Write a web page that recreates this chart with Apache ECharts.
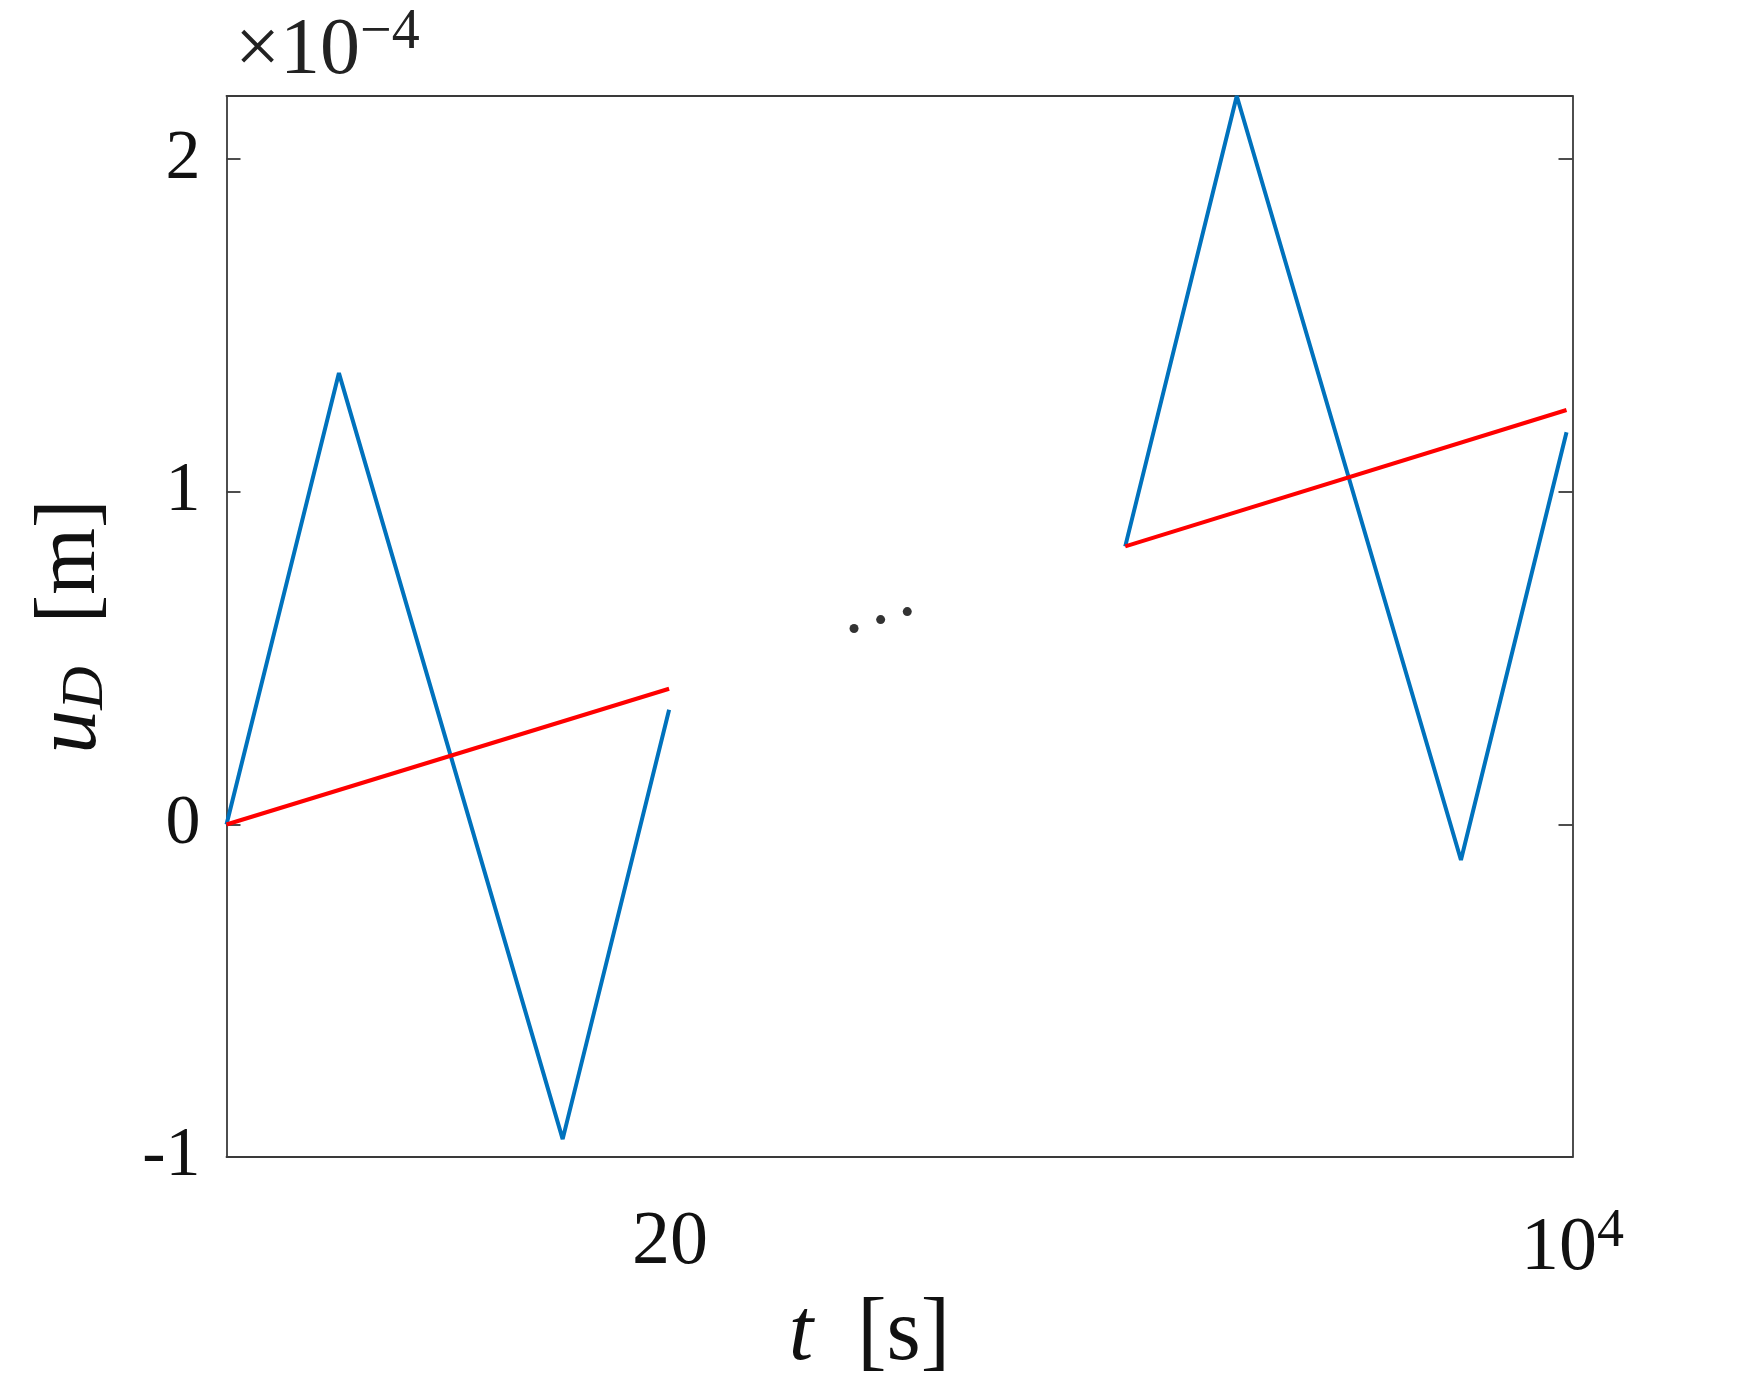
<!DOCTYPE html>
<html>
<head>
<meta charset="utf-8">
<script src="https://cdn.jsdelivr.net/npm/echarts@6/dist/echarts.min.js"></script>
<style>
  html, body { margin: 0; padding: 0; background: #fff; }
  #chart { width: 1738px; height: 1385px; }
</style>
</head>
<body>
<div id="chart"></div>
<script>
// time axis is broken: 0..20 s on the left, the last 20 s before 1e4 s on the right
var leftT = [0, 5.07, 15.16, 19.96]
var leftBlue = [0, 1.357, -0.946, 0.345]
var leftRedT = [0, 19.96]
var leftRed = [0, 0.408]

var rightT = [40.53, 45.56, 55.67, 60.43]
var rightBlue = [0.836, 2.19, -0.107, 1.179]
var rightRedT = [40.53, 60.43]
var rightRed = [0.836, 1.246]

// the "..." between the two windows
var dotsT = [28.3, 29.5, 30.7]
var dotsY = [0.589, 0.616, 0.64]

var xTickValues = [20, 60.7]
var xTickLabels = ['20', '{b|10}{sup|4}']
var yTickValues = [-1, 0, 1, 2]

var serif = 'Liberation Serif'
var axisColor = '#3a3a3a'

function pairs(xs, ys) {
  return xs.map(function (x, i) { return [x, ys[i]] })
}

var chart = echarts.init(document.getElementById('chart'))

var options = {
  animation: false,
  title: {
    text: '{a|×10}{sup|−4}',
    left: 230,
    top: 0,
    textStyle: {
      fontWeight: 'normal',
      rich: {
        a: { fontFamily: serif, fontSize: 80, fontWeight: 'normal', color: '#222' },
        sup: { fontFamily: serif, fontSize: 56, fontWeight: 'normal', color: '#222', padding: [0, 0, 38, 0] }
      }
    }
  },
  grid: {
    left: 226.5,
    right: 165.5,
    top: 96,
    bottom: 226
  },
  xAxis: [
    {
      type: 'value',
      min: 0,
      max: 60.7,
      position: 'bottom',
      name: '{i|t}  [s]',
      nameLocation: 'middle',
      nameGap: 134,
      nameTextStyle: {
        padding: [0, 60, 0, 0],
        rich: {
          i: { fontFamily: serif, fontStyle: 'italic', fontSize: 88, color: '#111' }
        },
        fontFamily: serif,
        fontSize: 88,
        color: '#111'
      },
      axisLine: { show: true, onZero: false, lineStyle: { color: axisColor, width: 1.8 } },
      axisTick: { show: false },
      splitLine: { show: false },
      axisLabel: {
        customValues: xTickValues,
        margin: 48,
        fontFamily: serif,
        fontSize: 76,
        color: '#111',
        formatter: function (val) {
          var i = xTickValues.indexOf(val)
          return i >= 0 ? xTickLabels[i] : ''
        },
        rich: {
          b: { fontFamily: serif, fontSize: 76, color: '#111' },
          sup: { fontFamily: serif, fontSize: 54, color: '#111', padding: [0, 0, 34, 0] }
        }
      }
    },
    {
      type: 'value',
      min: 0,
      max: 60.7,
      position: 'top',
      axisLine: { show: true, onZero: false, lineStyle: { color: axisColor, width: 1.8 } },
      axisTick: { show: false },
      axisLabel: { show: false },
      splitLine: { show: false }
    }
  ],
  yAxis: [
    {
      type: 'value',
      min: -1,
      max: 2.19,
      position: 'left',
      name: '{i|u}{sub|D}  [m]',
      nameLocation: 'middle',
      nameRotate: 90,
      nameGap: 110,
      nameTextStyle: {
        fontFamily: serif,
        fontSize: 86,
        color: '#111',
        rich: {
          i: { fontFamily: serif, fontStyle: 'italic', fontSize: 88, color: '#111' },
          sub: { fontFamily: serif, fontStyle: 'italic', fontSize: 60, color: '#111', padding: [30, 0, 0, 0] }
        }
      },
      axisLine: { show: true, onZero: false, lineStyle: { color: axisColor, width: 1.8 } },
      axisTick: {
        show: true,
        inside: true,
        length: 14,
        customValues: yTickValues,
        lineStyle: { color: axisColor, width: 1.8 }
      },
      axisLabel: {
        customValues: yTickValues,
        margin: 26,
        fontFamily: serif,
        fontSize: 70,
        color: '#111'
      },
      splitLine: { show: false }
    },
    {
      type: 'value',
      min: -1,
      max: 2.19,
      position: 'right',
      axisLine: { show: true, onZero: false, lineStyle: { color: axisColor, width: 1.8 } },
      axisTick: {
        show: true,
        inside: true,
        length: 14,
        customValues: yTickValues,
        lineStyle: { color: axisColor, width: 1.8 }
      },
      axisLabel: { show: false },
      splitLine: { show: false }
    }
  ],
  series: [
    {
      type: 'line',
      data: pairs(leftT, leftBlue),
      symbol: 'none',
      lineStyle: { color: '#0072BD', width: 4 }
    },
    {
      type: 'line',
      data: pairs(rightT, rightBlue),
      symbol: 'none',
      lineStyle: { color: '#0072BD', width: 4 }
    },
    {
      type: 'line',
      data: pairs(leftRedT, leftRed),
      symbol: 'none',
      lineStyle: { color: '#FF0000', width: 4 }
    },
    {
      type: 'line',
      data: pairs(rightRedT, rightRed),
      symbol: 'none',
      lineStyle: { color: '#FF0000', width: 4 }
    },
    {
      type: 'scatter',
      data: pairs(dotsT, dotsY),
      symbol: 'circle',
      symbolSize: 9,
      itemStyle: { color: '#000' }
    }
  ]
}

chart.setOption(options, true)
</script>
</body>
</html>
